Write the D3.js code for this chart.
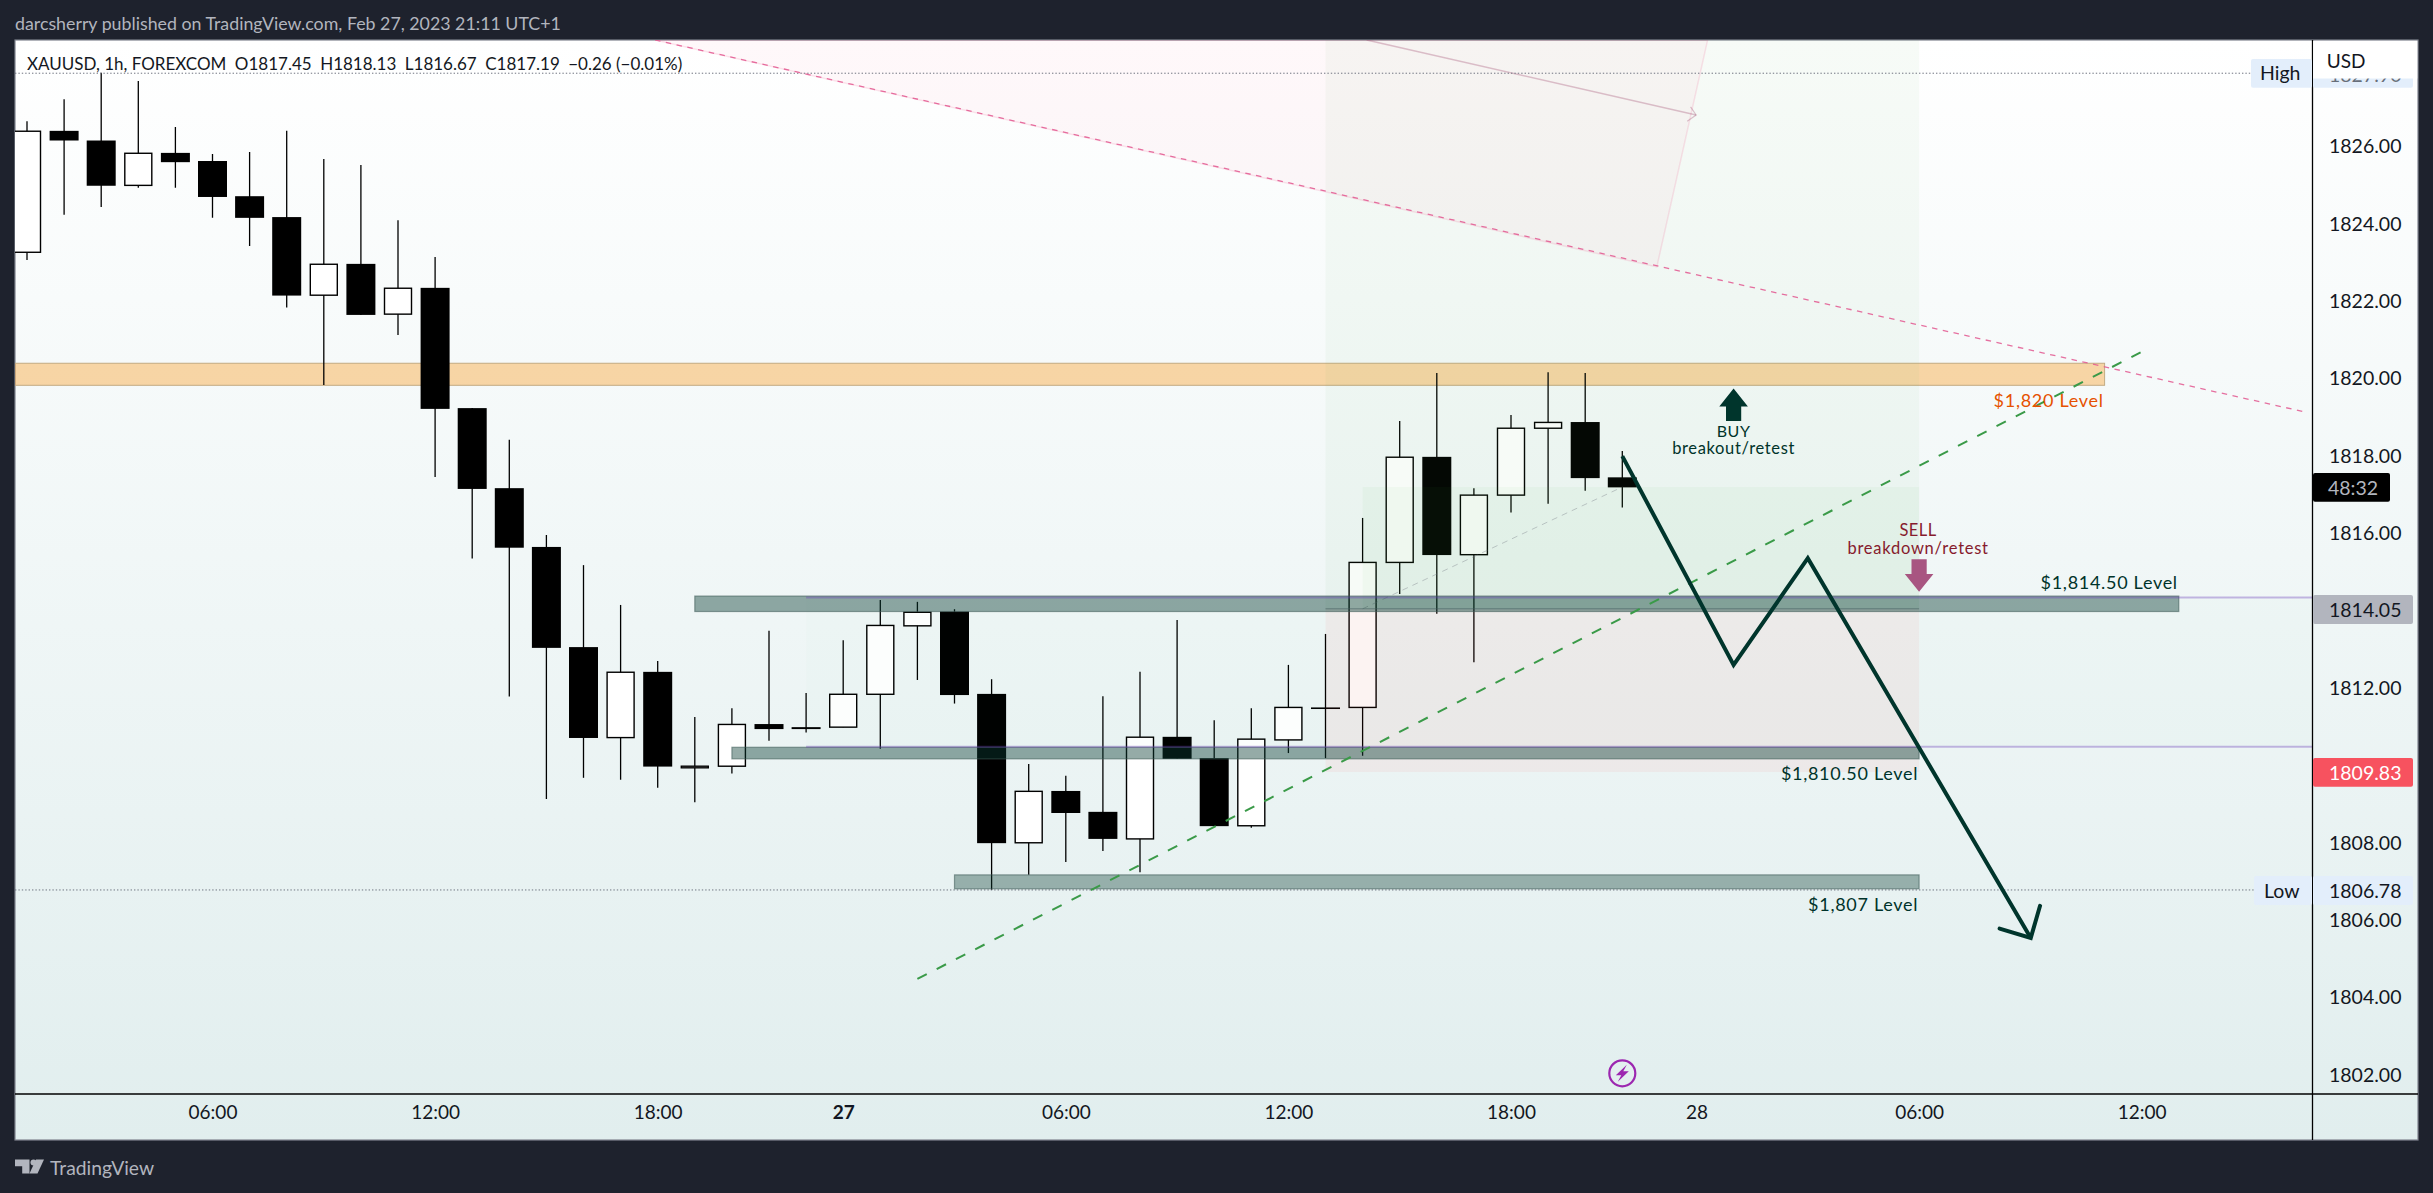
<!DOCTYPE html>
<html><head><meta charset="utf-8">
<script src="https://cdn.jsdelivr.net/npm/d3@7"></script>
<style>html,body{margin:0;padding:0;background:#1e222d;overflow:hidden}svg{display:block}text{font-family:"Lato","Noto Sans",sans-serif}</style>
</head><body><svg id="c" width="2433" height="1193"></svg>
<script>
// ---- data (bar index, prices) ----
const opens =[1823.27,1826.41,1826.16,1825.00,1825.84,1825.63,1824.72,1824.18,1822.16,1822.97,1821.67,1822.35,1819.24,1817.17,1815.65,1813.06,1810.72,1812.42,1809.97,1809.98,1811.07,1810.99,1810.99,1811.84,1813.61,1813.98,1811.85,1808.00,1809.34,1808.80,1808.10,1810.74,1810.19,1808.44,1810.66,1811.50,1811.50,1815.25,1817.98,1815.45,1816.99,1818.72,1818.88,1817.45];
const highs =[1826.66,1827.23,1827.91,1827.70,1826.51,1825.81,1825.86,1826.41,1825.68,1825.53,1824.10,1823.15,1819.24,1818.42,1815.96,1815.18,1814.15,1812.70,1811.25,1811.48,1813.48,1811.87,1813.24,1814.28,1814.23,1814.04,1812.23,1810.04,1809.73,1811.79,1812.42,1813.76,1811.17,1811.48,1812.60,1813.40,1816.40,1818.91,1820.15,1817.17,1819.06,1820.17,1820.15,1818.13];
const lows  =[1823.07,1824.24,1824.44,1824.94,1824.94,1824.16,1823.43,1821.84,1819.84,1821.65,1821.13,1817.46,1815.35,1811.78,1809.13,1809.68,1809.63,1809.42,1809.05,1809.79,1810.64,1810.85,1810.99,1810.43,1812.21,1811.60,1806.78,1807.17,1807.50,1807.79,1807.24,1810.17,1808.43,1808.39,1810.32,1810.19,1810.25,1814.43,1813.92,1812.67,1816.54,1816.77,1817.10,1816.67];
const closes=[1826.40,1826.16,1824.99,1825.83,1825.60,1824.70,1824.16,1822.15,1822.96,1821.65,1822.34,1819.22,1817.15,1815.63,1813.04,1810.71,1812.41,1809.97,1809.98,1811.06,1810.94,1810.94,1811.84,1813.62,1813.96,1811.82,1807.99,1809.33,1808.77,1808.10,1810.73,1810.17,1808.43,1810.68,1811.50,1811.50,1815.25,1817.97,1815.44,1816.99,1818.72,1818.87,1817.43,1817.19];
const priceTicks=[1826,1824,1822,1820,1818,1816,1812,1808,1806,1804,1802];
const timeTickIdx=[5,11,17,22,28,34,40,45,51,57];
const timeTickLabels=["06:00","12:00","18:00","27","06:00","12:00","18:00","28","06:00","12:00"];
const boldTimeTicks=["27"];
// price bands: [startIdx,endIdx,top,bottom]
const orangeBand=[-2,56,1820.40,1819.83];
const greyBands=[[18,58,1814.38,1813.98],[19,51,1810.47,1810.17],[25,51,1807.17,1806.81]];
const greyBandOpacity=[.43,.43,.37];
const levelLabels=[["$1,820 Level",56,1819.45,"#e65100"],["$1,814.50 Level",58,1814.75,"#00332a"],["$1,810.50 Level",51,1809.8,"#00332a"],["$1,807 Level",51,1806.42,"#00332a"]];
const buyZone=[35,51,1830,1814.05], buyZoneInner=[36,51,1817.2,1814.05], sellZone=[35,51,1814.05,1809.83];
const rangeZone=[21,1814.34,1810.48];
const redTrend=[[16.93,1828.76],[61.40,1819.14]];
const greenTrend=[[24,1804.48],[56.97,1820.68]];
const pinkPoly=[[16.93,1828.76],[45.30,1828.76],[43.93,1822.89]];
const pinkArrow=[[36.11,1828.76],[44.99,1826.82]];
const pinkArrowHead=[[44.84,1827.03],[44.99,1826.82],[44.75,1826.66]];
const positionDiag=[[36,1814.05],[43,1817.2]];
const zigzag=[[43,1818.0],[46,1812.6],[48,1815.36],[54.01,1805.54]];
const zigzagHead=[[53.17,1805.78],[54.01,1805.54],[54.26,1806.37]];
const highPrice=1827.90, lowPrice=1806.78, lastPrice=1817.19;

// ---- scales ----
const L=15,R=2418,T=40,B=1140,AX=2312.5,TX=1094;
const x=d3.scaleLinear().domain([0,57]).range([27,2141.7]);
const y=d3.scaleLinear().domain([1826,1802]).range([146.7,1074.8]);
const svg=d3.select("#c");
const defs=svg.append("defs");
const g=defs.append("linearGradient").attr("id","bg").attr("x1",0).attr("x2",0).attr("y1",0).attr("y2",1);
g.append("stop").attr("offset",0).attr("stop-color","#ffffff");
g.append("stop").attr("offset",1).attr("stop-color","#e1eeee");
defs.append("clipPath").attr("id","plot").append("rect").attr("x",L).attr("y",T).attr("width",AX-L).attr("height",TX-T);

// frame
svg.append("rect").attr("x",L).attr("y",T).attr("width",R-L).attr("height",B-T).attr("fill","url(#bg)").attr("stroke","#7f838e").attr("stroke-width",1.2);

const P=svg.append("g").attr("clip-path","url(#plot)");
const rectBand=(sel,a,fill,stroke)=>sel.append("rect").attr("x",x(a[0])).attr("width",x(a[1])-x(a[0])).attr("y",y(a[2])).attr("height",y(a[3])-y(a[2])).attr("fill",fill).attr("stroke",stroke||"none");
const line=d3.line().x(d=>x(d[0])).y(d=>y(d[1]));

// orange band under the candles
rectBand(P,orangeBand,"rgba(250,150,20,.37)","#c2ab82");

// candles
const idx=d3.range(opens.length);
const cs=P.append("g").selectAll("g").data(idx).join("g");
cs.append("line").attr("x1",i=>x(i)).attr("x2",i=>x(i)).attr("y1",i=>y(highs[i])).attr("y2",i=>y(lows[i])).attr("stroke","#000").attr("stroke-width",1.3);
cs.append("rect")
  .attr("x",i=>x(i)-(closes[i]>opens[i]?13.5:14.5))
  .attr("width",i=>closes[i]>opens[i]?27:29)
  .attr("y",i=>y(Math.max(opens[i],closes[i])))
  .attr("height",i=>Math.max(1.6,y(Math.min(opens[i],closes[i]))-y(Math.max(opens[i],closes[i]))))
  .attr("fill",i=>closes[i]>opens[i]?"#fff":"#000")
  .attr("stroke",i=>closes[i]>opens[i]?"#000":"none")
  .attr("stroke-width",1.4);

// position zones (above the candles, faint)
rectBand(P,buyZone,"rgba(76,175,80,.048)");
rectBand(P,buyZoneInner,"rgba(76,175,80,.045)");
rectBand(P,sellZone,"rgba(255,40,40,.05)");
P.append("rect").attr("x",x(rangeZone[0])).attr("width",AX-x(rangeZone[0])).attr("y",y(rangeZone[1])).attr("height",y(rangeZone[2])-y(rangeZone[1])).attr("fill","rgba(0,150,100,.012)");
P.append("line").attr("x1",x(buyZone[0])).attr("x2",x(buyZone[1])).attr("y1",y(1814.05)).attr("y2",y(1814.05)).attr("stroke","rgba(110,115,125,.6)").attr("stroke-width",1);
P.append("path").attr("d",line(positionDiag)).attr("fill","none").attr("stroke","rgba(120,125,135,.4)").attr("stroke-width",1).attr("stroke-dasharray","6 5");

// pink channel
P.append("path").attr("d",line(pinkPoly)+"Z").attr("fill","rgba(255,30,90,.03)").attr("stroke","rgba(233,30,99,.11)").attr("stroke-width",1.5);
P.append("path").attr("d",line(pinkArrow)).attr("fill","none").attr("stroke","rgba(160,70,110,.32)").attr("stroke-width",1.5);
P.append("path").attr("d",line(pinkArrowHead)).attr("fill","none").attr("stroke","rgba(160,70,110,.32)").attr("stroke-width",1.2);

// high / low dotted
[highPrice,lowPrice].forEach(p=>P.append("line").attr("x1",L).attr("x2",AX).attr("y1",y(p)).attr("y2",y(p)).attr("stroke","#6f7480").attr("stroke-width",1).attr("stroke-dasharray","1.4 2"));

// grey bands
greyBands.forEach((b,i)=>rectBand(P,b,`rgba(10,60,50,${greyBandOpacity[i]})`,"rgba(60,90,85,.55)").attr("stroke-width",1.2));

// purple rays
[rangeZone[1],rangeZone[2]].forEach(p=>P.append("line").attr("x1",x(rangeZone[0])).attr("x2",AX).attr("y1",y(p)).attr("y2",y(p)).attr("stroke","rgba(103,58,183,.35)").attr("stroke-width",2));

// trend lines
P.append("path").attr("d",line(redTrend)).attr("fill","none").attr("stroke","#e2578f").attr("stroke-width",1.3).attr("stroke-opacity",.85).attr("stroke-dasharray","5.5 5.5");
P.append("path").attr("d",line(greenTrend)).attr("fill","none").attr("stroke","#3a9a48").attr("stroke-width",2).attr("stroke-dasharray","10.5 11.15");

// zigzag
P.append("path").attr("d",line(zigzag)).attr("fill","none").attr("stroke","#00352c").attr("stroke-width",4).attr("stroke-linejoin","miter");
P.append("path").attr("d",line(zigzagHead)).attr("fill","none").attr("stroke","#00352c").attr("stroke-width",4).attr("stroke-linecap","round");

// block arrows
const up=(cx,tip,c)=>P.append("path").attr("fill",c).attr("d",`M${cx},${tip}l14.3,18h-6.7v14.7h-15.2v-14.7h-6.7z`);
const down=(cx,tip,c)=>P.append("path").attr("fill",c).attr("d",`M${cx},${tip}l14.3,-17.7h-6.7v-14.9h-15.2v14.9h-6.7z`);
up(x(46),y(1819.75),"#00352c");
down(x(51),y(1814.49),"#a85581");

// annotation text
const ann=(t,xx,yy,c,fs,a,ls)=>P.append("text").text(t).attr("x",xx).attr("y",yy).attr("fill",c).attr("font-size",fs).attr("letter-spacing",ls||0).attr("text-anchor",a||"middle").attr("dominant-baseline","central");
levelLabels.forEach(l=>ann(l[0],x(l[1])-1,y(l[2]),l[3],18,"end",.7));
ann("BUY",x(46),430.5,"#00332a",16,"middle",.6);
ann("breakout/retest",x(46),447.5,"#00332a",16.5,"middle",.65);
ann("SELL",x(51)-1,529.5,"#861b2d",16.5,"middle",.45);
ann("breakdown/retest",x(51)-1,548,"#861b2d",16.5,"middle",.75);

// lightning
const bolt=P.append("g").attr("transform",`translate(${x(43)},1073.3)`);
bolt.append("circle").attr("r",13).attr("fill","none").attr("stroke","#9c27b0").attr("stroke-width",2.2);
bolt.append("path").attr("fill","#9c27b0").attr("d","M4.5,-8.5L-6.5,2L-1,2L-4.5,8.5L6.5,-2L1,-2Z");

// axes panes
svg.append("line").attr("x1",AX).attr("x2",AX).attr("y1",T).attr("y2",B).attr("stroke","#000").attr("stroke-width",1.3);
svg.append("line").attr("x1",L).attr("x2",R).attr("y1",TX).attr("y2",TX).attr("stroke","#000").attr("stroke-width",1.3);

const yAxis=d3.axisRight(y).tickValues(priceTicks).tickFormat(d=>d.toFixed(2)).tickSize(0).tickPadding(0);
const ya=svg.append("g").attr("transform",`translate(2329,0)`).call(yAxis);
ya.select(".domain").remove();
ya.selectAll("text").attr("font-size",19.5).attr("fill","#131722").attr("style","font-family:Lato,'Noto Sans',sans-serif");
const xAxis=d3.axisBottom(x).tickValues(timeTickIdx).tickFormat((d,i)=>timeTickLabels[i]).tickSize(0).tickPadding(0);
const xa=svg.append("g").attr("transform",`translate(0,1105)`).call(xAxis);
xa.select(".domain").remove();
xa.selectAll("text").attr("font-size",19).attr("fill","#131722").attr("style","font-family:Lato,'Noto Sans',sans-serif")
  .attr("font-weight",function(){return boldTimeTicks.includes(this.textContent)?700:400});

// price labels
const box=(x0,x1,y0,y1,c)=>svg.append("rect").attr("x",x0).attr("width",x1-x0).attr("y",y0).attr("height",y1-y0).attr("fill",c).attr("rx",2);
const tx=(t,xx,yy,c,fs,a,w)=>svg.append("text").text(t).attr("x",xx).attr("y",yy).attr("fill",c).attr("font-size",fs).attr("text-anchor",a||"start").attr("dominant-baseline","central").attr("font-weight",w||400);
box(2251,2312,59,87.7,"#e3eefb"); box(2313,2413,59,87.7,"#e3eefb");
tx(highPrice.toFixed(2),2329,74,"#131722",19.5).attr("fill-opacity",.6);
svg.append("rect").attr("x",2313.2).attr("y",41).attr("width",104).attr("height",37.5).attr("fill","#fff");
tx("High",2260,72.5,"#131722",19.5);
tx("USD",2326.8,60,"#131722",19);
box(2254,2312,876,905,"#e3eefb"); box(2313,2413,876,905,"#e3eefb");
tx("Low",2264,890.5,"#131722",19.5);
tx(lowPrice.toFixed(2),2329,890.5,"#131722",19.5);
box(2313,2390,473,501.7,"#000");
tx("48:32",2328,487.5,"#b2b5be",19.5);
box(2313,2413,595,624,"#b2b5be");
tx("1814.05",2329,609.5,"#131722",19.5);
box(2313,2413,758,786.7,"#f7525f");
tx("1809.83",2329,772.5,"#fff",19.5);

// header / legend
tx("darcsherry published on TradingView.com, Feb 27, 2023 21:11 UTC+1",15,23,"#b2b5be",17.8);
tx("XAUUSD, 1h, FOREXCOM\u2002O1817.45\u2002H1818.13\u2002L1816.67\u2002C1817.19\u2002\u22120.26 (\u22120.01%)",27,63,"#131722",17);

// footer logo
svg.append("path").attr("fill","#b2b5be").attr("d","M15,1159.5h14.5v14h-7.3v-7.2h-7.2z");
svg.append("circle").attr("cx",33.5).attr("cy",1162.5).attr("r",3).attr("fill","#b2b5be");
svg.append("path").attr("fill","#b2b5be").attr("d","M36,1159.5h8l-6.5,14h-8z");
tx("TradingView",50,1167,"#b2b5be",19.3);
</script></body></html>
